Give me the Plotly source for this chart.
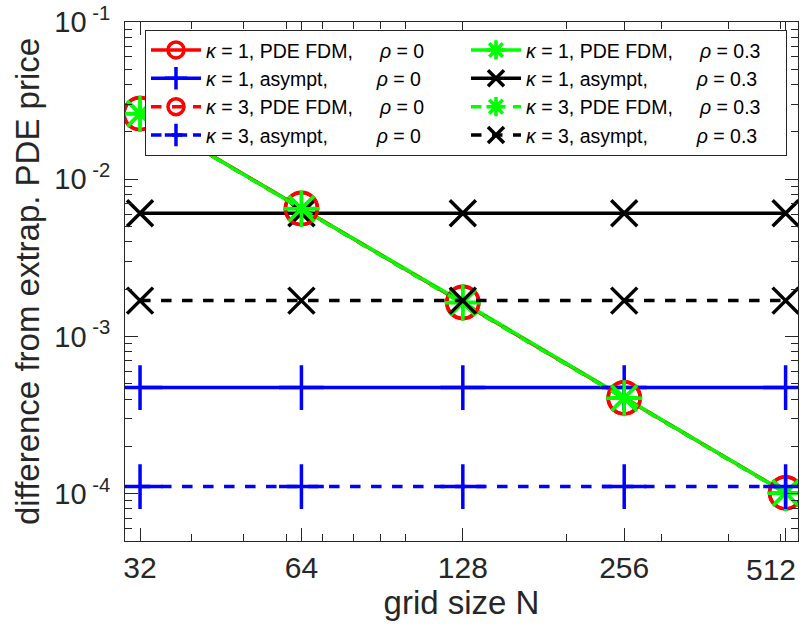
import math
import plotly.graph_objects as go

N = [32, 64, 128, 256, 512]
N_labels = ["32", "64", "128", "256", ""]
last_label = "512"

# PDE FDM differences
fdm_k1_r0 = [0.0262, 0.00653, 0.00165, 0.000408, 0.0001015]
fdm_k3_r0 = [0.0261, 0.00650, 0.00164, 0.000406, 0.0001010]
fdm_k1_r3 = [0.0262, 0.00652, 0.00165, 0.000408, 0.0001013]
fdm_k3_r3 = [0.0260, 0.00649, 0.00164, 0.000405, 0.0001008]

# asymptotic differences (constant in N)
asy_k1_r0 = [4.73e-4] * 5
asy_k3_r0 = [1.11e-4] * 5
asy_k1_r3 = [6.07e-3] * 5
asy_k3_r3 = [1.69e-3] * 5

y_ticks = [1e-4, 1e-3, 1e-2, 1e-1]
y_ticktext = ["10<sup> -4</sup>", "10<sup> -3</sup>", "10<sup> -2</sup>", "10<sup> -1</sup>"]

NB = "\u00a0"

def lab(k, kind, rho):
    if kind == "PDE":
        mid = "PDE FDM," + NB * 5
    else:
        mid = "asympt," + NB * 9
    return f"<i>κ</i> = {k}, {mid}<i>ρ</i> = {rho}"

series = [
    # (y, color, dash, symbol, size, name)
    (fdm_k1_r0, "#ff0000", "solid", "circle-open", 32, lab(1, "PDE", "0")),
    (fdm_k1_r3, "#00ff00", "solid", "asterisk-open", 30, lab(1, "PDE", "0.3")),
    (asy_k1_r0, "#0000ff", "solid", "cross-thin-open", 32, lab(1, "asy", "0")),
    (asy_k1_r3, "#000000", "solid", "x-thin-open", 26, lab(1, "asy", "0.3")),
    (fdm_k3_r0, "#ff0000", "dash", "circle-open", 32, lab(3, "PDE", "0")),
    (fdm_k3_r3, "#00ff00", "dash", "asterisk-open", 30, lab(3, "PDE", "0.3")),
    (asy_k3_r0, "#0000ff", "dash", "cross-thin-open", 32, lab(3, "asy", "0")),
    (asy_k3_r3, "#000000", "dash", "x-thin-open", 26, lab(3, "asy", "0.3")),
]

fig = go.Figure()
for y, col, dash, sym, sz, name in series:
    fig.add_trace(go.Scatter(
        x=N, y=y, mode="lines+markers", name=name,
        line=dict(color=col, width=3.5, dash=dash),
        marker=dict(symbol=sym, size=sz, color=col, line=dict(color=col, width=3.5)),
    ))

axcol = "#262626"
xminor = [40, 50, 60, 70, 80, 90, 100, 200, 300, 400, 500]
yminor = []
for e in [-5, -4, -3, -2]:
    for m in range(2, 10):
        v = m * 10 ** e
        if 5e-5 <= v <= 0.1:
            yminor.append(v)

# last x tick label pulled inside the figure (as MATLAB does)
fig.add_annotation(
    text=last_label, x=math.log10(N[-1]), xref="x", y=0, yref="paper",
    xanchor="right", yanchor="top", xshift=12, yshift=-10,
    showarrow=False, font=dict(size=30, color=axcol),
)

fig.update_layout(
    width=808, height=629,
    margin=dict(l=125, r=10, t=22, b=88, autoexpand=False),
    paper_bgcolor="white", plot_bgcolor="white",
    font=dict(family="Liberation Sans, Arial, sans-serif", color=axcol),
    showlegend=True,
    legend=dict(
        x=0.0297, y=0.985, xanchor="left", yanchor="top",
        orientation="h", entrywidth=255, entrywidthmode="pixels",
        bgcolor="white", bordercolor="#262626", borderwidth=1,
        font=dict(size=19.5, color="#000000"), itemwidth=50,
        tracegroupgap=0,
    ),
    xaxis=dict(
        type="log", range=[1.4771, 2.7324], automargin=False,
        tickmode="array", tickvals=N, ticktext=N_labels,
        ticks="inside", ticklen=13, tickcolor=axcol, tickwidth=1,
        showline=True, linecolor=axcol, linewidth=1, mirror="ticks",
        showgrid=False, zeroline=False,
        tickfont=dict(size=30),
        title=dict(text="grid size N", font=dict(size=33), standoff=2),
        minor=dict(tickmode="array", tickvals=xminor, ticks="inside",
                   ticklen=7, tickcolor=axcol, tickwidth=1, showgrid=False),
    ),
    yaxis=dict(
        type="log", range=[-4.3010, -1], automargin=False,
        tickmode="array", tickvals=y_ticks, ticktext=y_ticktext,
        ticks="inside", ticklen=13, tickcolor=axcol, tickwidth=1,
        showline=True, linecolor=axcol, linewidth=1, mirror="ticks",
        showgrid=False, zeroline=False, ticklabeloverflow="allow",
        ticklabelstandoff=8,
        tickfont=dict(size=29),
        title=dict(text="difference from extrap. PDE price", font=dict(size=33), standoff=4),
        minor=dict(tickmode="array", tickvals=yminor, ticks="inside",
                   ticklen=7, tickcolor=axcol, tickwidth=1, showgrid=False),
    ),
)

fig.write_html("out.html")
